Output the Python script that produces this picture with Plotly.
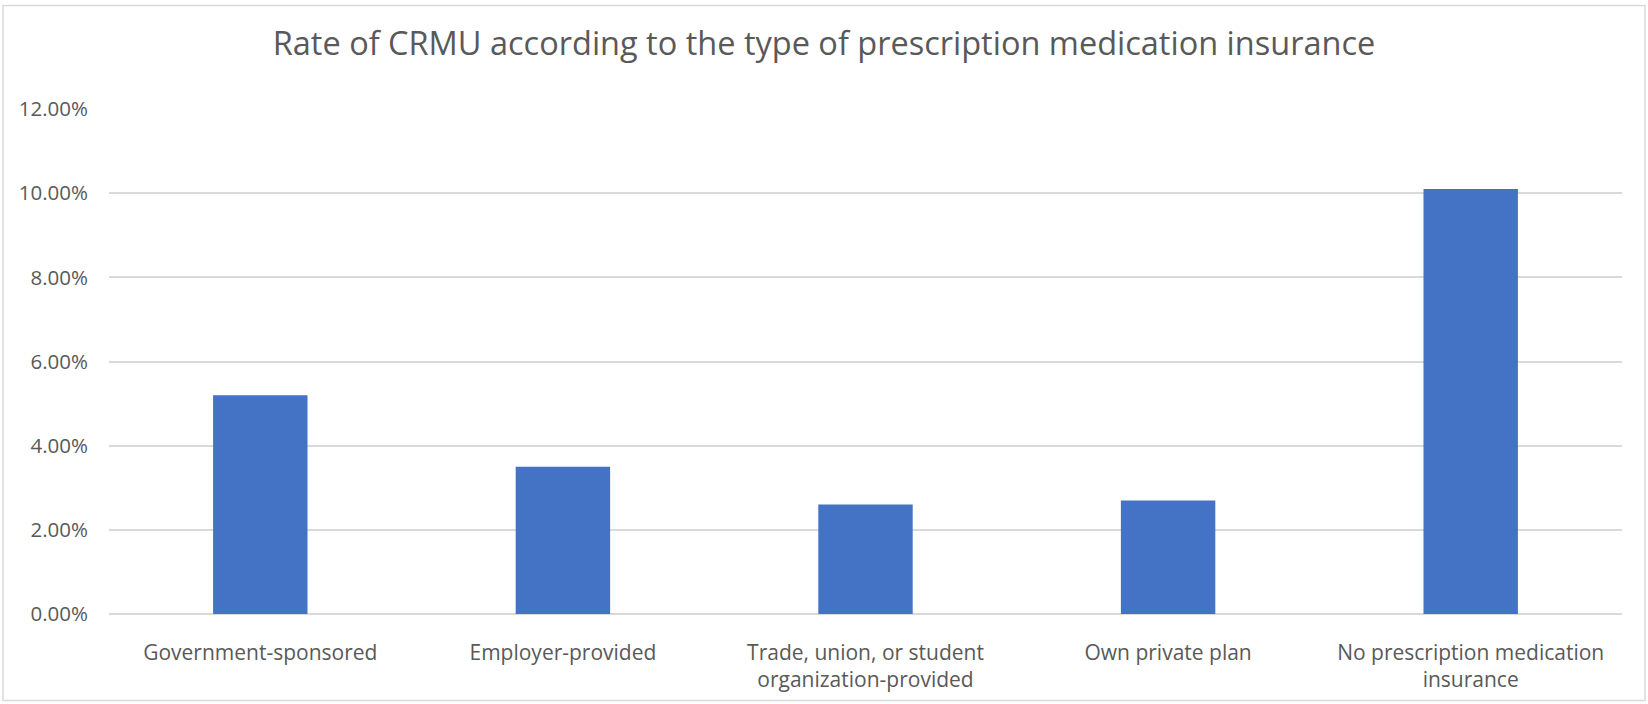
import plotly.graph_objects as go

categories = [
    "Government-sponsored",
    "Employer-provided",
    "Trade, union, or student<br>organization-provided",
    "Own private plan",
    "No prescription medication<br>insurance",
]
rates = [0.052, 0.035, 0.026, 0.027, 0.101]
y_ticks = [0, 0.02, 0.04, 0.06, 0.08, 0.10, 0.12]
y_tick_labels = ["0.00%", "2.00%", "4.00%", "6.00%", "8.00%", "10.00%", "12.00%"]
title_text = "Rate of CRMU according to the type of prescription medication insurance"

FONT = "'Open Sans', 'Noto Sans', sans-serif"
GREY = "#595959"
GRID = "#d9d9d9"

fig = go.Figure(
    go.Bar(x=categories, y=rates, marker=dict(color="#4472C4", line=dict(width=0)))
)

W, H = 1648, 704
ml, mr, mt, mb = 109, 26, 109, 90
pw, ph = W - ml - mr, H - mt - mb

def px_x(p):
    return (p - ml) / pw

def px_y(p):
    return (H - mb - p) / ph

fig.update_layout(
    width=W,
    height=H,
    margin=dict(l=ml, r=mr, t=mt, b=mb),
    paper_bgcolor="white",
    plot_bgcolor="white",
    bargap=0.688,
    showlegend=False,
    title=dict(
        text=title_text,
        x=0.5,
        xref="container",
        xanchor="center",
        y=1 - 44 / H,
        yref="container",
        yanchor="middle",
        font=dict(family=FONT, size=32.5, color=GREY),
    ),
    font=dict(family=FONT, color=GREY),
    shapes=[
        dict(
            type="rect",
            xref="paper",
            yref="paper",
            x0=px_x(3),
            x1=px_x(1645),
            y0=px_y(700.5),
            y1=px_y(5.5),
            line=dict(color=GRID, width=1.5),
            fillcolor="rgba(0,0,0,0)",
            layer="below",
        )
    ],
)

fig.update_xaxes(
    showline=False,
    showgrid=False,
    zeroline=False,
    tickfont=dict(family=FONT, size=21, color=GREY),
    ticks="",
    ticklabelstandoff=24,
)
fig.update_yaxes(
    range=[0, 0.12],
    tickvals=y_ticks,
    ticktext=y_tick_labels,
    showgrid=True,
    gridcolor=GRID,
    gridwidth=1.5,
    zeroline=True,
    zerolinecolor=GRID,
    zerolinewidth=1.5,
    showline=False,
    ticks="",
    tickfont=dict(family=FONT, size=20.5, color=GREY),
    ticklabelstandoff=20,
)

fig.write_html("out.html")
